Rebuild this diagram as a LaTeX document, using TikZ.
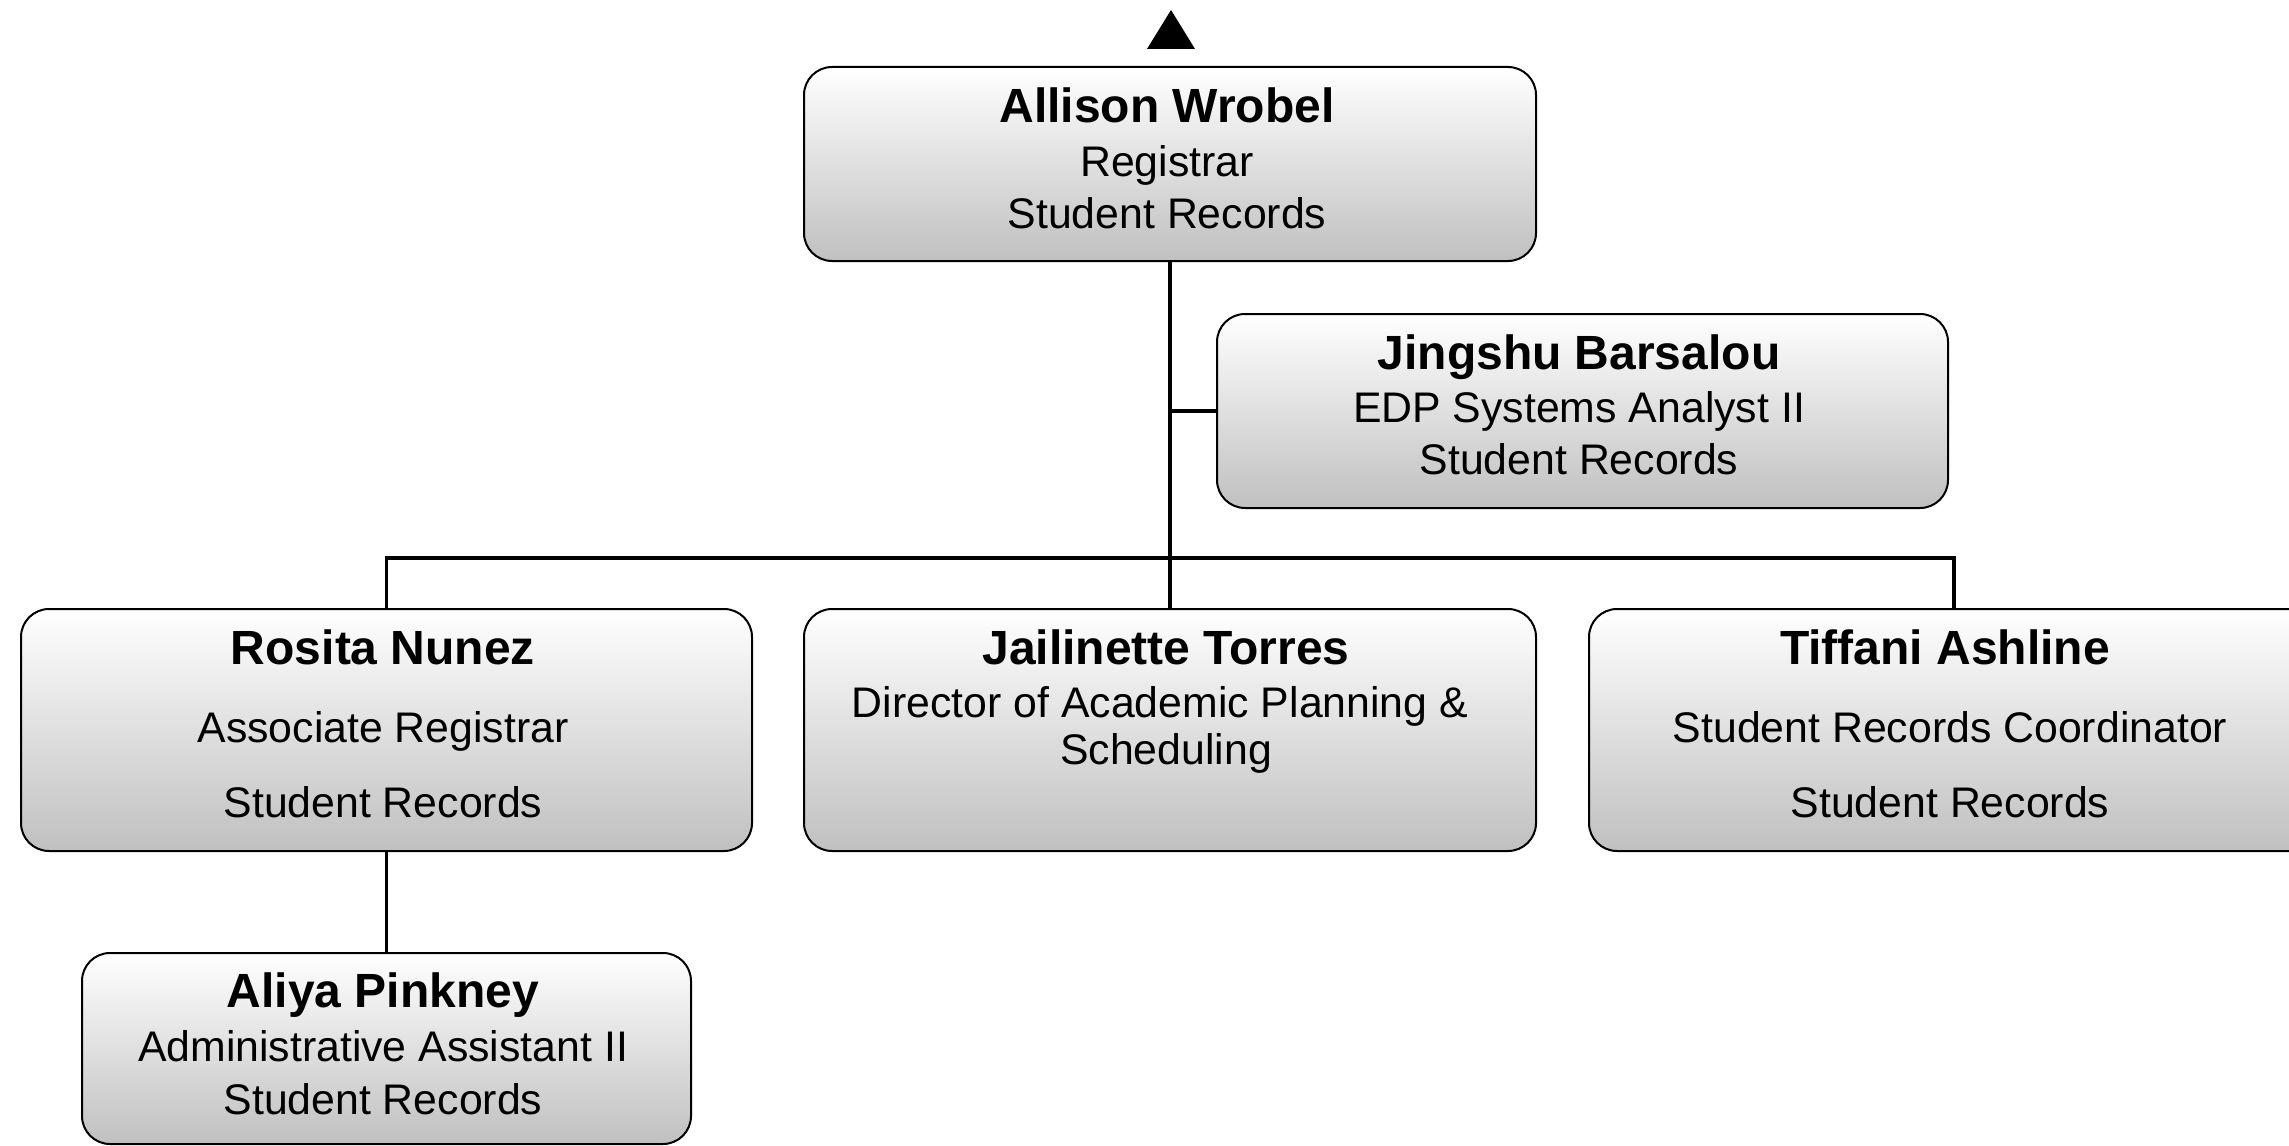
\documentclass[tikz,border=0pt]{standalone}
\usepackage{fontspec}
\setmainfont{Liberation Sans}
\definecolor{boxgray}{RGB}{192,192,192}
\tikzset{
  orgbox/.style={draw=black, line width=1pt, rounded corners=14pt,
    top color=white, bottom color=boxgray, inner sep=0pt, minimum height=#1},
  conn/.style={draw=black, line width=1.7pt},
  nametxt/.style={anchor=base, inner sep=0pt, font=\bfseries\fontsize{24}{28}\selectfont},
  roletxt/.style={anchor=base, inner sep=0pt, font=\fontsize{21.4}{25}\selectfont},
}
\begin{document}
\begin{tikzpicture}[x=0.5pt,y=-0.5pt]
\clip (0,0) rectangle (2289,1145);
\fill[white] (0,0) rectangle (2289,1145);

% boxes
\node[orgbox=97pt, minimum width=366pt] (allison) at (1170,164) {};
\node[orgbox=97pt, minimum width=365.5pt] (jingshu) at (1582.5,411) {};
\node[orgbox=121pt, minimum width=365.5pt] (rosita) at (386.5,730) {};
\node[orgbox=121pt, minimum width=366pt] (jailinette) at (1170,730) {};
\node[orgbox=121pt, minimum width=365pt] (tiffani) at (1954,730) {};
\node[orgbox=95.5pt, minimum width=304.5pt] (aliya) at (386.5,1048.5) {};

% top arrowhead
\fill[black] (1147,49) -- (1171,10) -- (1195,49) -- cycle;

% connectors
\coordinate (bus) at (1170,558);
\draw[conn] (allison.south) -- (jailinette.north);
\draw[conn] (jingshu.west -| allison.south) -- (jingshu.west);
\draw[conn] (rosita.north) |- (tiffani.north |- bus) -- (tiffani.north);
\draw[conn] (rosita.south) -- (aliya.north);

% texts
\node[nametxt] (allisonN) at (1167,123) {Allison Wrobel};
\node[roletxt] (allisonT) at (1167,176) {Registrar};
\node[roletxt] (allisonD) at (1167,228) {Student Records};

\node[nametxt] (jingshuN) at (1579,369) {Jingshu Barsalou};
\node[roletxt] (jingshuT) at (1579,422) {EDP Systems Analyst II};
\node[roletxt] (jingshuD) at (1579,474) {Student Records};

\node[nametxt] (rositaN) at (383,664) {Rosita Nunez};
\node[roletxt] (rositaT) at (383,742) {Associate Registrar};
\node[roletxt] (rositaD) at (383,817) {Student Records};

\node[nametxt] (jailN) at (1166,664) {Jailinette Torres};
\node[roletxt] (jailT1) at (1160,717) {Director of Academic Planning \&};
\node[roletxt] (jailT2) at (1166,764) {Scheduling};

\node[nametxt] (tiffN) at (1945,664) {Tiffani Ashline};
\node[roletxt] (tiffT) at (1950,742) {Student Records Coordinator};
\node[roletxt] (tiffD) at (1950,817) {Student Records};

\node[nametxt] (aliyaN) at (383,1007) {Aliya Pinkney};
\node[roletxt] (aliyaT) at (383,1061) {Administrative Assistant II};
\node[roletxt] (aliyaD) at (383,1114) {Student Records};
\end{tikzpicture}
\end{document}
